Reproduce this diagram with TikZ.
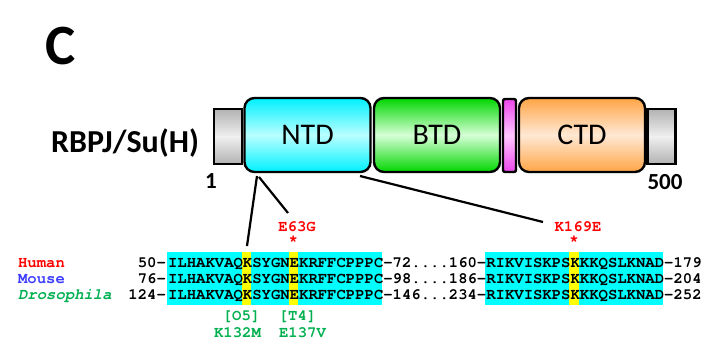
\documentclass[tikz,border=0pt]{standalone}
\usepackage{fontspec}
\setmainfont{Carlito}
\newfontfamily\seqfont{texgyrecursor}[Extension=.otf, UprightFont=*-regular,
	BoldFont=*-bold, ItalicFont=*-italic, BoldItalicFont=*-bolditalic]
\definecolor{seqcyan}{RGB}{0,255,255}
\definecolor{seqyellow}{RGB}{255,255,0}
\definecolor{mutred}{RGB}{255,0,0}
\definecolor{mouseblue}{RGB}{60,60,255}
\definecolor{flygreen}{RGB}{0,176,80}
\definecolor{tailgrey}{RGB}{178,178,178}
\definecolor{ntdcyan}{RGB}{0,240,255}
\definecolor{ntdlight}{RGB}{185,255,255}
\definecolor{btdgreen}{RGB}{0,215,0}
\definecolor{btdlight}{RGB}{215,255,215}
\definecolor{ctdorange}{RGB}{255,165,70}
\definecolor{ctdlight}{RGB}{255,232,212}
\definecolor{linkpink}{RGB}{235,70,235}
\definecolor{linklight}{RGB}{255,200,255}
\tikzset{
	dombox/.style  = {draw, line width=2.4pt, rounded corners=10pt,
		minimum height=74pt, minimum width=126pt, inner sep=0pt,
		font=\fontsize{30}{30}\selectfont},
	tailbox/.style = {draw, line width=2.4pt, minimum height=55pt,
		minimum width=28pt, inner sep=0pt, top color=tailgrey,
		bottom color=tailgrey, middle color=white!94!black},
	linkbox/.style = {draw, line width=2.4pt, rounded corners=2pt,
		minimum height=73pt, minimum width=13pt, inner sep=0pt,
		top color=linkpink, bottom color=linkpink, middle color=linklight},
	seqtext/.style = {inner sep=0pt, font=\seqfont\bfseries\fontsize{15.6}{16}\selectfont},
	muttext/.style = {seqtext, text=mutred},
	sitetext/.style = {seqtext, text=flygreen},
	endnum/.style  = {inner sep=0pt, font=\bfseries\fontsize{23}{23}\selectfont}
}
\newcommand{\cw}{9.36}

\begin{document}
\begin{tikzpicture}[x=1pt, y=-1pt, line width=2.2pt]
	\useasboundingbox (0,0) rectangle (721,356);
	% highlighted columns
	\fill[seqcyan] (167,252) rectangle (167+23*\cw,305);
	\fill[seqcyan] (167+34*\cw,252) rectangle (167+53*\cw,305);
	\fill[seqyellow] (167+8*\cw,252) rectangle (167+9*\cw,305);
	\fill[seqyellow] (167+13*\cw,252) rectangle (167+14*\cw,305);
	\fill[seqyellow] (167+43*\cw,252) rectangle (167+44*\cw,305);

	\draw
	node at (61,46.5) [font=\bfseries\fontsize{57}{57}\selectfont] (panel) {C}
	node at (125,152) [anchor=base, font=\bfseries\fontsize{32}{32}\selectfont] (prot) {RBPJ/Su(H)}
	node at (228,136.5) [tailbox] (nterm) {}
	node at (661.5,136.5) [tailbox] (cterm) {}
	node at (307.5,135) [dombox, top color=ntdcyan, bottom color=ntdcyan, middle color=ntdlight] (ntd) {NTD}
	node at (437,135) [dombox, top color=btdgreen, bottom color=btdgreen, middle color=btdlight] (btd) {BTD}
	node at (509.5,135.5) [linkbox] (link) {}
	node at (582,135) [dombox, top color=ctdorange, bottom color=ctdorange, middle color=ctdlight] (ctd) {CTD}
	node at (211,181) [endnum] (first) {1}
	node at (665,182) [endnum] (last) {500};

	% species and sequences
	\draw
	node at (17,267) [seqtext, anchor=base west, text=mutred] (human) {Human}
	node at (17,283) [seqtext, anchor=base west, text=mouseblue] (mouse) {Mouse}
	node at (17,299) [seqtext, anchor=base west, text=flygreen, font=\seqfont\bfseries\itshape\fontsize{15.6}{16}\selectfont] (fly) {Drosophila}
	node at (167,267) [seqtext, anchor=base east] (hnum) {50-}
	node at (167,283) [seqtext, anchor=base east] (mnum) {76-}
	node at (167,299) [seqtext, anchor=base east] (fnum) {124-}
	node at (167,267) [seqtext, anchor=base west] (hseq) {ILHAKVAQKSYGNEKRFFCPPPC-72....160-RIKVISKPSKKKQSLKNAD-179}
	node at (167,283) [seqtext, anchor=base west] (mseq) {ILHAKVAQKSYGNEKRFFCPPPC-98....186-RIKVISKPSKKKQSLKNAD-204}
	node at (167,299) [seqtext, anchor=base west] (fseq) {ILHAKVAQKSYGNEKRFFCPPPC-146...234-RIKVISKPSKKKQSLKNAD-252};

	% mutations
	\draw
	node at (297,231) [muttext, anchor=base] (e63g) {E63G}
	node at (167+13.5*\cw,241) [muttext] (estar) {*}
	node at (578,231) [muttext, anchor=base] (k169e) {K169E}
	node at (167+43.5*\cw,241) [muttext] (kstar) {*}
	node at (241.5,320) [sitetext, anchor=base] (o5) {[O5]}
	node at (237.5,337) [sitetext, anchor=base] (k132m) {K132M}
	node at (297.5,320) [sitetext, anchor=base] (t4) {[T4]}
	node at (302.5,337) [sitetext, anchor=base] (e137v) {E137V};

	\coordinate (ntdk) at (257,176);
	\coordinate (ntde) at (259,177);
	\coordinate (ntdr) at (360,176);
	\coordinate (kcol) at (247,246);
	\coordinate (ecol) at (288,213);
	\coordinate (kkcol) at (543,222);
	\draw[-](ntdk)--(kcol);
	\draw[-](ntde)--(ecol);
	\draw[-](ntdr)--(kkcol);
\end{tikzpicture}
\end{document}
